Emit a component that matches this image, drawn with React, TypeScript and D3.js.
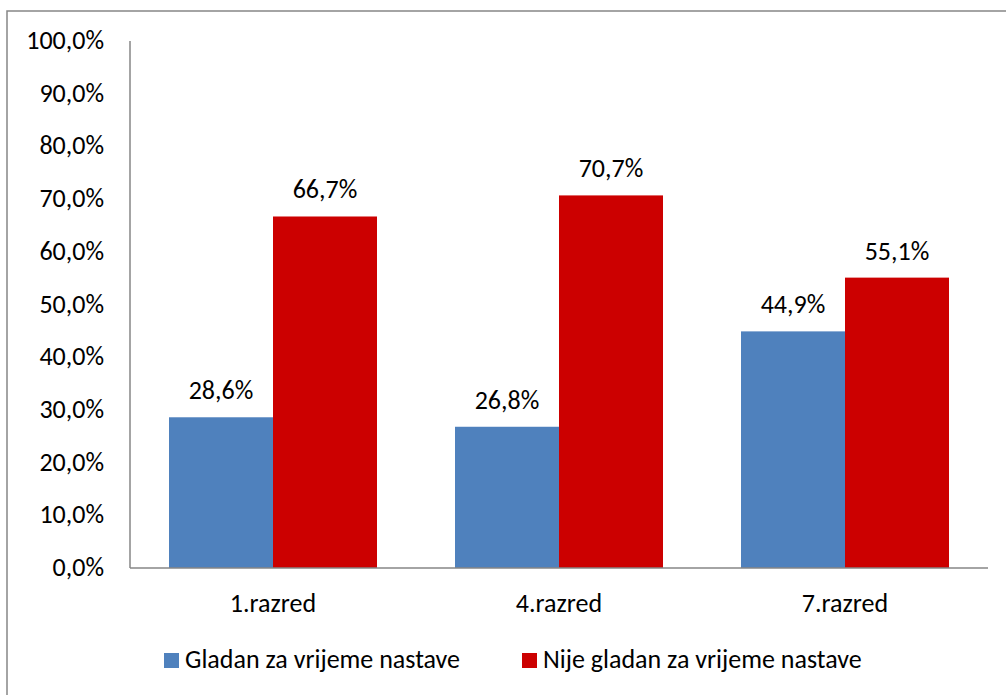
import React from "react";
import * as d3 from "d3";

const categories = ["1.razred", "4.razred", "7.razred"];
const seriesNames = ["Gladan za vrijeme nastave", "Nije gladan za vrijeme nastave"];
const gladan = [28.6, 26.8, 44.9];
const nijeGladan = [66.7, 70.7, 55.1];
const yTicks = [0, 10, 20, 30, 40, 50, 60, 70, 80, 90, 100];
const colors = ["#4F81BD", "#CC0000"];

const W = 1006;
const H = 695;
const FONT = "Carlito, Lato, 'Open Sans', sans-serif";
const fmt = (v: number) => v.toFixed(1).replace(".", ",") + "%";

export default function App() {
  const left = 130, right = 988, top = 41, bottom = 568;
  const x0 = d3.scaleBand<string>().domain(categories).range([left, right]).paddingInner(0).paddingOuter(0);
  const inner = d3.scaleBand<number>().domain([0, 1]).range([0, x0.bandwidth()]).paddingOuter(0.375).paddingInner(0);
  const y = d3.scaleLinear().domain([0, 100]).range([bottom, top]);
  const series = [gladan, nijeGladan];
  const fontSize = 26;

  return (
    <svg width={W} height={H} style={{ position: "absolute", left: 0, top: 0, background: "#fff" }} fontFamily={FONT}>
      <rect x={7} y={11} width={W + 20} height={H + 20} fill="#fff" stroke="#868686" strokeWidth={1.5} />
      {yTicks.map((t) => (
        <text key={t} x={104} y={y(t) + 8} textAnchor="end" fontSize={fontSize} fill="#000">
          {fmt(t)}
        </text>
      ))}
      {categories.map((c, ci) =>
        series.map((s, si) => {
          const bx = (x0(c) as number) + (inner(si) as number);
          const bw = inner.bandwidth();
          return (
            <g key={c + si}>
              <rect x={bx} y={y(s[ci])} width={bw} height={bottom - y(s[ci])} fill={colors[si]} />
              <text x={bx + bw / 2} y={y(s[ci]) - 18} textAnchor="middle" fontSize={fontSize} fill="#000">
                {fmt(s[ci])}
              </text>
            </g>
          );
        })
      )}
      <line x1={left} x2={left} y1={top} y2={bottom} stroke="#868686" strokeWidth={1.5} />
      <line x1={left} x2={right} y1={bottom} y2={bottom} stroke="#868686" strokeWidth={1.5} />
      {categories.map((c) => (
        <text key={c} x={(x0(c) as number) + x0.bandwidth() / 2} y={612} textAnchor="middle" fontSize={fontSize} fill="#000">
          {c}
        </text>
      ))}
      {seriesNames.map((n, i) => {
        const lx = i === 0 ? 164 : 522;
        return (
          <g key={n}>
            <rect x={lx} y={653} width={15} height={15} fill={colors[i]} />
            <text x={lx + 21} y={668} fontSize={fontSize} fill="#000">
              {n}
            </text>
          </g>
        );
      })}
    </svg>
  );
}
